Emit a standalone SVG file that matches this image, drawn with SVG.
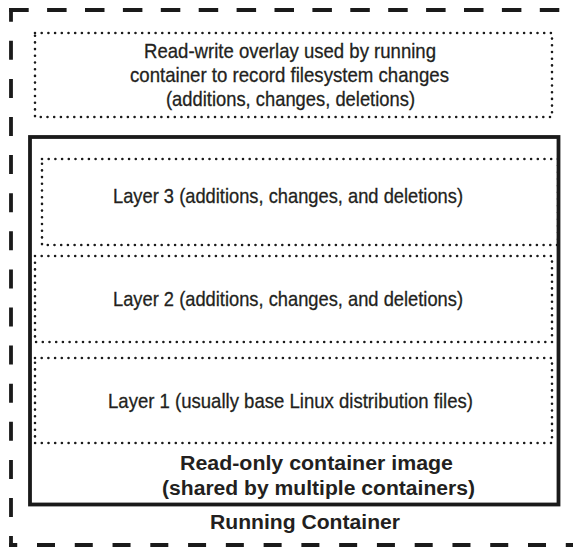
<svg xmlns="http://www.w3.org/2000/svg" width="573" height="548" viewBox="0 0 573 548">
  <style>
    .dash { fill: none; stroke: #1a1a1a; stroke-width: 3.8; }
    .dot { fill: none; stroke: #1a1a1a; stroke-width: 2.6; stroke-linecap: round; stroke-dasharray: 0 6.7; }
    .solid { fill: none; stroke: #1a1a1a; stroke-width: 3.8; }
    .t { font-family: "Liberation Sans Narrow", "Liberation Sans", Arial, sans-serif; font-size: 21px; fill: #231f20; stroke: #231f20; stroke-width: 0.3; text-anchor: middle; }
    .b { font-family: "Liberation Sans", Arial, sans-serif; font-size: 19.5px; font-weight: bold; fill: #231f20; text-anchor: middle; }
  </style>
  <rect width="573" height="548" fill="#ffffff"/>

  <g id="running-container">
    <path class="dash" d="M9,10 H600" stroke-dasharray="19.5 18.4" stroke-dashoffset="-0.2"/>
    <path class="dash" d="M11,8 V547" stroke-dasharray="19 19.1" stroke-dashoffset="5.3"/>
    <path class="dash" d="M9,545 H600" stroke-dasharray="18 19.77" stroke-dashoffset="9.77"/>
    <text class="b" x="305" y="529" textLength="190" lengthAdjust="spacingAndGlyphs">Running Container</text>
  </g>

  <g id="overlay">
    <rect class="dot" x="35" y="33" width="517" height="84"/>
    <text class="t" x="290" y="58" textLength="292" lengthAdjust="spacingAndGlyphs">Read-write overlay used by running</text>
    <text class="t" x="289.5" y="82" textLength="319" lengthAdjust="spacingAndGlyphs">container to record filesystem changes</text>
    <text class="t" x="290.5" y="106" textLength="249" lengthAdjust="spacingAndGlyphs">(additions, changes, deletions)</text>
  </g>

  <g id="layer3">
    <rect class="dot" x="42" y="159" width="516" height="86"/>
    <text class="t" x="288" y="203" textLength="350" lengthAdjust="spacingAndGlyphs">Layer 3 (additions, changes, and deletions)</text>
  </g>

  <g id="layer2">
    <rect class="dot" x="35" y="256" width="517" height="86"/>
    <text class="t" x="288" y="305.5" textLength="350" lengthAdjust="spacingAndGlyphs">Layer 2 (additions, changes, and deletions)</text>
  </g>

  <g id="layer1">
    <rect class="dot" x="35" y="358" width="517" height="85"/>
    <text class="t" x="290.5" y="408" textLength="365" lengthAdjust="spacingAndGlyphs">Layer 1 (usually base Linux distribution files)</text>
  </g>

  <g id="read-only-image">
    <rect class="solid" x="30" y="137" width="528.5" height="367.5"/>
    <text class="b" x="316.5" y="470" textLength="273" lengthAdjust="spacingAndGlyphs">Read-only container image</text>
    <text class="b" x="318.5" y="495" textLength="313" lengthAdjust="spacingAndGlyphs">(shared by multiple containers)</text>
  </g>
</svg>
